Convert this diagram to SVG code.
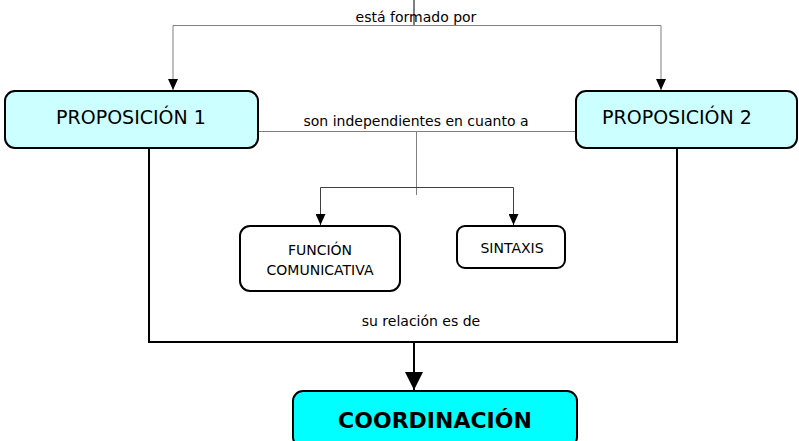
<svg xmlns="http://www.w3.org/2000/svg" width="799" height="441" viewBox="0 0 799 441">
<style>
text{font-family:"DejaVu Sans","Liberation Sans",sans-serif;fill:#000;text-anchor:middle}
.lbl{font-size:14px}
.box{stroke:#000;stroke-width:2}
.thin{fill:none;stroke:#808080;stroke-width:1}
.dark{fill:none;stroke:#404040;stroke-width:1}
.thick{fill:none;stroke:#000;stroke-width:2}
</style>
<defs>
<marker id="ah" markerUnits="userSpaceOnUse" markerWidth="11" markerHeight="10" refX="11" refY="5" orient="auto-start-reverse" viewBox="0 0 11 10"><path d="M0,0 L11,5 L0,10 Z" fill="#000"/></marker>
<marker id="ahb" markerUnits="userSpaceOnUse" markerWidth="18" markerHeight="18" refX="9" refY="18" viewBox="0 0 18 18"><path d="M0,0 L18,0 L9,18 Z" fill="#000"/></marker>
</defs>
<g id="connectors">
<line x1="414" y1="0" x2="414" y2="26" stroke="#000" stroke-width="1"/>
<polyline class="thin" points="173,90 173,25.5 661,25.5 661,90" marker-start="url(#ah)" marker-end="url(#ah)"/>
<line class="thin" x1="258" y1="131.5" x2="576" y2="131.5"/>
<line class="thin" x1="416.5" y1="131" x2="416.5" y2="195"/>
<polyline class="dark" points="320.5,225 320.5,187.5 513.5,187.5 513.5,225" marker-start="url(#ah)" marker-end="url(#ah)"/>
<polyline class="thick" points="149,148 149,342 677,342 677,148"/>
<line class="thick" x1="414" y1="342" x2="414" y2="390" marker-end="url(#ahb)"/>
<line x1="414" y1="431" x2="414" y2="441" stroke="#000" stroke-width="1"/>
<text class="lbl" x="416" y="22">está formado por</text>
<text class="lbl" x="416" y="126">son independientes en cuanto a</text>
<text class="lbl" x="421" y="326">su relación es de</text>
</g>
<g id="p1">
<rect class="box" x="5" y="91" width="253" height="57" rx="10" fill="#ccffff"/>
<text x="131" y="124" font-size="19">PROPOSICIÓN 1</text>
</g>
<g id="p2">
<rect class="box" x="576" y="91" width="221" height="57" rx="10" fill="#ccffff"/>
<text x="677" y="124" font-size="19">PROPOSICIÓN 2</text>
</g>
<g id="funcion">
<rect class="box" x="240" y="226" width="160" height="65" rx="10" fill="#fff"/>
<text x="320" y="255" font-size="14">FUNCIÓN</text>
<text x="320" y="275" font-size="14">COMUNICATIVA</text>
</g>
<g id="sintaxis">
<rect class="box" x="457" y="226" width="108" height="42" rx="8" fill="#fff"/>
<text x="512" y="253" font-size="14">SINTAXIS</text>
</g>
<g id="coord">
<rect class="box" x="293" y="391" width="284" height="56" rx="10" fill="#00ffff"/>
<text x="435" y="428" font-size="22" font-weight="bold">COORDINACIÓN</text>
</g>
</svg>
